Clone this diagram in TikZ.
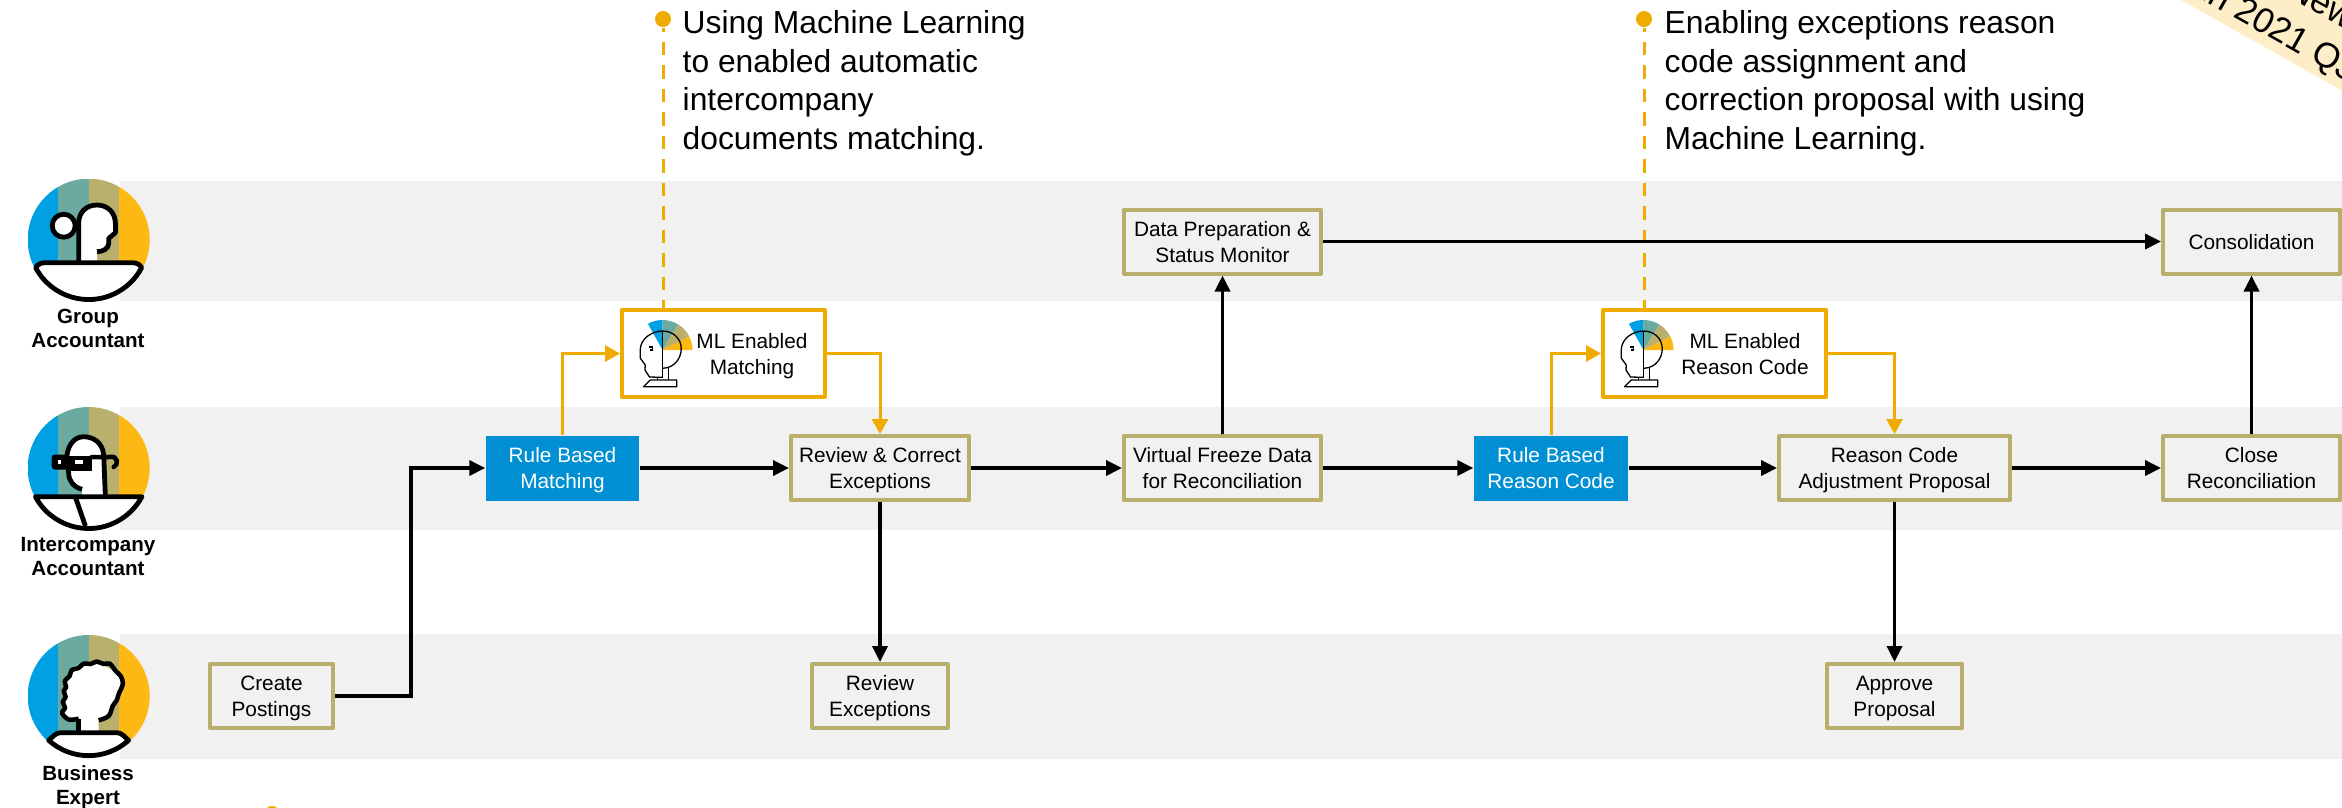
\documentclass[tikz,border=0pt]{standalone}
\usepackage{fontspec}
\setmainfont{Liberation Sans}
\usepackage{tikz}
\usetikzlibrary{arrows.meta}
\definecolor{lanegray}{HTML}{F1F1F1}
\definecolor{boxkhaki}{HTML}{B9AF6D}
\definecolor{mlgold}{HTML}{F0AB00}
\definecolor{ruleblue}{HTML}{008FD3}
\definecolor{stripeblue}{HTML}{00A0E3}
\definecolor{stripeteal}{HTML}{6BAAA0}
\definecolor{stripekhaki}{HTML}{B9B06E}
\definecolor{stripeyellow}{HTML}{FDB813}
\definecolor{bannercream}{HTML}{FEEEC8}

\begin{document}
\begin{tikzpicture}[node distance=1.5cm]
      \tikzstyle{lane} = [fill=lanegray]
      \tikzstyle{taskbox} = [rectangle, minimum height=.64cm, inner sep=0pt, align=center, text depth=0pt, draw=boxkhaki, line width=.04cm, line join=round, font=\fontsize{5.92}{7.4}\selectfont]
      \tikzstyle{rulebox} = [rectangle, minimum height=.65cm, inner sep=0pt, align=center, text depth=0pt, fill=ruleblue, text=white, font=\fontsize{5.92}{7.4}\selectfont]
      \tikzstyle{mlbox} = [rectangle, minimum height=.87cm, inner sep=0pt, draw=mlgold, fill=white, line width=.04cm, line join=round]
      \tikzstyle{mltext} = [inner sep=0pt, align=center, text depth=0pt, font=\fontsize{5.92}{7.4}\selectfont]
      \tikzstyle{rolelabel} = [inner sep=0pt, align=center, font=\bfseries\fontsize{5.85}{6.8}\selectfont]
      \tikzstyle{callout} = [inner sep=0pt, align=left, anchor=north west, font=\fontsize{9.05}{10.95}\selectfont]
      \tikzstyle{calloutdot} = [circle, fill=mlgold, minimum size=.16cm, inner sep=0pt]
      \tikzstyle{arrow} = [line width=.035cm,->,>={Triangle[length=.16cm,width=.15cm]}]
      \tikzstyle{mlarrow} = [line width=.03cm,draw=mlgold,->,>={Triangle[length=.15cm,width=.16cm]}]
      \tikzstyle{calloutline} = [line width=.03cm, draw=mlgold, dash pattern=on .135cm off .10cm, dash phase=.095cm]
      \tikzstyle{banner} = [inner sep=0pt, anchor=base west, rotate=-29.4, font=\fontsize{10}{12}\selectfont]
      \tikzset{
        stripes/.pic={
          \begin{scope}
            \clip (0,0) circle (.61);
            \fill[stripeblue] (-.61,-.61) rectangle (-.305,.61);
            \fill[stripeteal] (-.305,-.61) rectangle (0,.61);
            \fill[stripekhaki] (0,-.61) rectangle (.305,.61);
            \fill[stripeyellow] (.305,-.61) rectangle (.61,.61);
          \end{scope}
        },
        groupface/.pic={
          \pic {stripes};
          \fill[white] (-.10,-.23) -- (-.10,.163) .. controls (-.10,.28) and (-.02,.347) .. (.083,.347) .. controls (.19,.347) and (.267,.27) .. (.267,.163) -- (.267,.07) -- (.2,.013) -- (.2,-.037) .. controls (.2,-.09) and (.14,-.12) .. (.083,-.12) -- (.083,-.23) -- cycle;
          \draw[line width=.048cm, line join=round] (-.10,-.23) -- (-.10,.163) .. controls (-.10,.28) and (-.02,.347) .. (.083,.347) .. controls (.19,.347) and (.267,.27) .. (.267,.163) -- (.267,.07) -- (.2,.013) -- (.2,-.037) .. controls (.2,-.09) and (.14,-.12) .. (.083,-.12);
          \draw[line width=.048cm, fill=white] (-.25,.14) circle (.115);
          \draw[line width=.048cm, fill=white, line join=round] (-.53,-.28) arc[start angle=208,end angle=332,radius=.6] .. controls (.5,-.23) and (.46,-.23) .. (.42,-.23) -- (-.42,-.23) .. controls (-.46,-.23) and (-.5,-.23) .. cycle;
        },
        companyface/.pic={
          \pic {stripes};
          \fill[white] (-.067,-.213) .. controls (-.15,-.19) and (-.2,-.13) .. (-.2,-.053) -- (-.217,.13) .. controls (-.2,.25) and (-.13,.313) .. (-.05,.313) .. controls (.05,.313) and (.14,.25) .. (.15,.13) -- (.167,-.29) -- (-.067,-.29) -- cycle;
          \draw[line width=.048cm] (-.067,-.213) .. controls (-.15,-.19) and (-.2,-.13) .. (-.2,-.053) -- (-.217,.13) .. controls (-.2,.25) and (-.13,.313) .. (-.05,.313) .. controls (.05,.313) and (.14,.25) .. (.15,.13) -- (.167,-.29);
          \fill[rounded corners=.03cm] (-.37,.135) rectangle (-.2,-.015);
          \fill[white] (-.31,.085) rectangle (-.28,.04);
          \fill (-.22,.125) rectangle (.035,-.025);
          \fill[white] (-.14,.085) rectangle (-.055,.04);
          \draw[line width=.045cm, line cap=round] (.03,.11) -- (.2,.11) .. controls (.3,.13) and (.3,.03) .. (.25,.01);
          \draw[line width=.048cm, fill=white, line join=round] (-.533,-.287) arc[start angle=208.3,end angle=331.7,radius=.605] -- cycle;
          \draw[line width=.048cm] (-.133,-.29) -- (-.033,-.58);
        },
        expertface/.pic={
          \pic {stripes};
          \fill[white] (-.1,-.36) -- (-.1,-.227) -- (-.233,-.227) -- (-.267,-.16) -- (-.233,.023) -- (-.25,.123) -- (-.15,.29) -- (.067,.34) -- (.283,.24) -- (.343,.123) -- (.283,-.043) -- (.233,-.143) -- (.1,-.243) -- (.1,-.36) -- cycle;
          \draw[line width=.045cm, line join=round] (-.1,-.36) -- (-.1,-.227);
          \draw[line width=.045cm, line join=round] plot[smooth, tension=.55] coordinates {(-.1,-.227) (-.2,-.235) (-.267,-.17) (-.235,-.12) (-.26,-.06) (-.23,-.01) (-.25,.05) (-.225,.09) (-.24,.15) (-.19,.2) (-.17,.26) (-.10,.28) (-.05,.325) (.02,.32) (.08,.345) (.15,.32) (.21,.325) (.27,.25) (.32,.2) (.342,.123) (.3,.02) (.28,-.043) (.24,-.1) (.2,-.2) (.1,-.243)};
          \draw[line width=.048cm, fill=white, line join=round] (-.4,-.443) arc[start angle=228,end angle=312,radius=.597] .. controls (.36,-.41) and (.33,-.367) .. (.283,-.367) -- (-.283,-.367) .. controls (-.33,-.367) and (-.36,-.41) .. cycle;
        },
        mlhead/.pic={
          \fill[stripeblue] (0,0) -- (119:.3) arc[start angle=119,end angle=90,radius=.3] -- cycle;
          \fill[stripeteal] (0,0) -- (90:.3) arc[start angle=90,end angle=58,radius=.3] -- cycle;
          \fill[stripekhaki] (0,0) -- (58:.3) arc[start angle=58,end angle=27,radius=.3] -- cycle;
          \fill[stripeyellow] (0,0) -- (27:.3) arc[start angle=27,end angle=0,radius=.3] -- cycle;
          \draw[line width=.013cm, line join=round] (0,.19) .. controls (.11,.19) and (.19,.11) .. (.187,.01) .. controls (.187,-.07) and (.13,-.18) .. (.0,-.183);
          \draw[line width=.013cm, line join=round] (0,.19) .. controls (-.1,.19) and (-.22,.12) .. (-.223,.0) -- (-.223,-.08) -- (-.173,-.15) -- (-.175,-.2) -- (-.13,-.27) -- (0,-.273);
          \draw[line width=.016cm] (0,.19) -- (0,-.28);
          \draw[line width=.013cm] (-.14,.03) -- (-.097,.03) -- (-.097,0) -- (-.13,0);
          \draw[line width=.013cm] (.06,-.183) -- (.06,-.3) (-.05,-.273) -- (-.05,-.3);
          \draw[line width=.013cm, line join=round] (-.19,-.367) -- (-.123,-.3) -- (.143,-.3) -- (.143,-.367) -- cycle;
        }
      }

      \useasboundingbox (0,0) rectangle (23.42,-8.07);
      \clip (0,0) rectangle (23.42,-8.07);

      % lanes
      \fill[lane] (1.2,-1.81) rectangle (23.42,-3.006);
      \fill[lane] (1.2,-4.07) rectangle (23.42,-5.30);
      \fill[lane] (1.2,-6.34) rectangle (23.42,-7.59);

      % banner
      \fill[bannercream] (21.81,0) -- (23.42,-.905) -- (23.42,0) -- cycle;
      \node (bannertop) [banner] at (22.85,.05) {New};
      \node (bannerlow) [banner] at (21.995,.02) {in 2021 Q3};

      % personas
      \pic at (.887,-2.397) {groupface};
      \pic at (.887,-4.68) {companyface};
      \pic at (.887,-6.96) {expertface};
      \node (grouplabel) [rolelabel] at (.88,-3.28) {Group\\Accountant};
      \node (companylabel) [rolelabel] at (.88,-5.565) {Intercompany\\Accountant};
      \node (expertlabel) [rolelabel] at (.88,-7.875) {Business\\Expert};

      % tasks
      \node (create) [taskbox, minimum width=1.23cm] at (2.715,-6.96) {Create\\Postings};
      \node (rulematch) [rulebox, minimum width=1.53cm] at (5.625,-4.68) {Rule Based\\Matching};
      \node (review) [taskbox, minimum width=1.78cm, right of=rulematch, xshift=1.675cm] {Review \& Correct\\Exceptions};
      \node (freeze) [taskbox, minimum width=1.97cm, right of=review, xshift=1.925cm] {Virtual Freeze Data\\for Reconciliation};
      \node (rulereason) [rulebox, minimum width=1.54cm, right of=freeze, xshift=1.785cm] {Rule Based\\Reason Code};
      \node (adjust) [taskbox, minimum width=2.31cm, right of=rulereason, xshift=1.935cm] {Reason Code\\Adjustment Proposal};
      \node (close) [taskbox, minimum width=1.77cm, right of=adjust, xshift=2.07cm] {Close\\Reconciliation};
      \node (prep) [taskbox, minimum width=1.97cm, above of=freeze, yshift=.765cm] {Data Preparation \&\\Status Monitor};
      \node (consolidation) [taskbox, minimum width=1.77cm, above of=close, yshift=.765cm] {Consolidation};
      \node (reviewexc) [taskbox, minimum width=1.36cm, below of=review, yshift=-.78cm] {Review\\Exceptions};
      \node (approve) [taskbox, minimum width=1.35cm, below of=adjust, yshift=-.78cm] {Approve\\Proposal};

      % machine learning steps
      \node (mlmatch) [mlbox, minimum width=2.03cm, above of=rulematch, xshift=1.61cm, yshift=-.355cm] {};
      \node (mlreason) [mlbox, minimum width=2.23cm, above of=rulereason, xshift=1.635cm, yshift=-.355cm] {};
      \node (mlmatchtext) [mltext] at ([xshift=.285cm]mlmatch.center) {ML Enabled\\Matching};
      \node (mlreasontext) [mltext] at ([xshift=.305cm]mlreason.center) {ML Enabled\\Reason Code};
      \pic at ([xshift=-.61cm,yshift=.035cm]mlmatch.center) {mlhead};
      \pic at ([xshift=-.71cm,yshift=.035cm]mlreason.center) {mlhead};

      % callouts
      \node (dotmatch) [calloutdot] at (6.63,-.19) {};
      \node (dotreason) [calloutdot] at (16.44,-.19) {};
      \node (dotbottom) [calloutdot] at (2.72,-8.14) {};
      \node (notematch) [callout] at (6.82,-.10) {Using Machine Learning\\to enabled automatic\\intercompany\\documents matching.};
      \node (notereason) [callout] at (16.64,-.10) {Enabling exceptions reason\\code assignment and\\correction proposal with using\\Machine Learning.};
      \draw [calloutline] (dotmatch.south) -- (dotmatch.south |- mlmatch.north);
      \draw [calloutline] (dotreason.south) -- (dotreason.south |- mlreason.north);

      % connectors
      \coordinate (elbow) at (4.11,-6.96);
      \draw [arrow] (create) -- (elbow) |- (rulematch);
      \draw [arrow] (rulematch) -- (review);
      \draw [arrow] (review) -- (freeze);
      \draw [arrow] (freeze) -- (rulereason);
      \draw [arrow] (rulereason) -- (adjust);
      \draw [arrow] (adjust) -- (close);
      \draw [arrow] (freeze) -- (prep);
      \draw [arrow] (prep) -- (consolidation);
      \draw [arrow] (close) -- (consolidation);
      \draw [arrow] (review) -- (reviewexc);
      \draw [arrow] (adjust) -- (approve);
      \draw [mlarrow] (rulematch) |- (mlmatch);
      \draw [mlarrow] (mlmatch) -| (review);
      \draw [mlarrow] (rulereason) |- (mlreason);
      \draw [mlarrow] (mlreason) -| (adjust);

\end{tikzpicture}
\end{document}
